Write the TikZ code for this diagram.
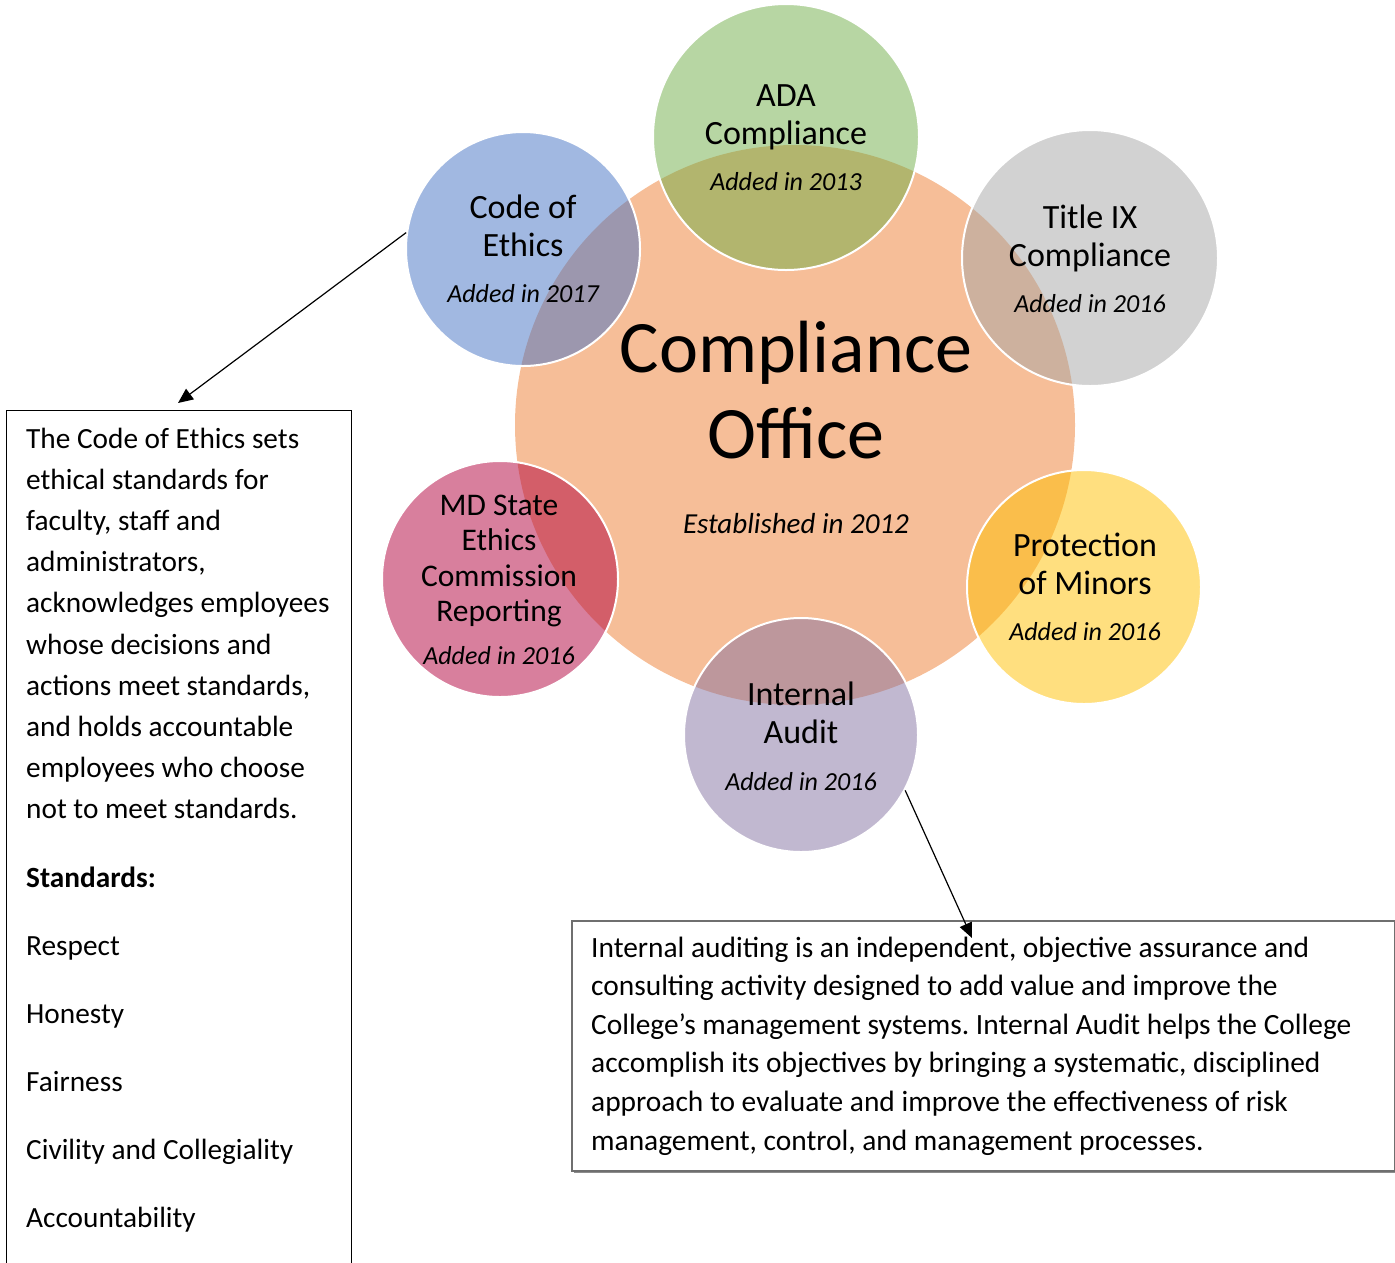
\documentclass[tikz,border=0pt]{standalone}
\usepackage{fontspec}
\setmainfont{Carlito}
\usetikzlibrary{arrows.meta,shadows}
\definecolor{cOrange}{HTML}{ED7D31}
\definecolor{cGreen}{HTML}{70AD47}
\definecolor{cBlue}{HTML}{4472C4}
\definecolor{cGray}{HTML}{A5A5A5}
\definecolor{cGold}{HTML}{FFC000}
\definecolor{cPurple}{HTML}{8472A2}
\definecolor{cRose}{HTML}{B2003C}
\definecolor{boxline}{HTML}{6F6F6F}
\frenchspacing
\tikzset{
  bubble/.style 2 args={circle, fill=#1, fill opacity=0.5, draw=white, draw opacity=1,
    line width=2pt, inner sep=0pt, minimum size=#2},
  bubbletext/.style={anchor=base, align=flush center, text width=#1, inner sep=0pt,
    font=\fontsize{34}{38}\selectfont},
  plaintext/.style={anchor=base west, align=flush left, inner sep=0pt},
  connector/.style={-{Triangle[length=15pt,width=13pt]}, line width=1.2pt, black},
}
\newcommand{\addedline}[1]{{\itshape\fontsize{26}{38}\selectfont #1}}
\begin{document}
\begin{tikzpicture}[x=1pt,y=-1pt]
\path[use as bounding box] (0,0) rectangle (1395,1262);
\clip (0,0) rectangle (1395,1262);

% hub
\node[circle, fill=cOrange, fill opacity=0.5, inner sep=0pt, minimum size=560] (hub) at (795,425) {};
% satellites
\node[bubble={cGreen}{266}]  (ada)   at (786,137) {};
\node[bubble={cBlue}{234}]   (coe)   at (523,249) {};
\node[bubble={cGray}{256}]   (tix)   at (1090,258) {};
\node[bubble={cGold}{234}]   (prot)  at (1084,587) {};
\node[bubble={cPurple}{234}] (audit) at (801,735) {};
\node[bubble={cRose}{236}]   (md)    at (500,579) {};

% texts
\node[bubbletext=500, font=\fontsize{74}{86}\selectfont] (hubtext) at (796,372)
  {Compliance\\Office\\[-11pt]{\itshape\fontsize{29}{38}\selectfont Established in 2012}};
\node[bubbletext=250] (adatext) at (786,106) {ADA\\Compliance\\[8pt]\addedline{Added in 2013}};
\node[bubbletext=230] (coetext) at (523,218) {Code of\\Ethics\\[8pt]\addedline{Added in 2017}};
\node[bubbletext=250] (tixtext) at (1090,228) {Title IX\\Compliance\\[8pt]\addedline{Added in 2016}};
\node[bubbletext=230] (prottext) at (1085,556) {Protection\\of Minors\\[8pt]\addedline{Added in 2016}};
\node[bubbletext=230] (audittext) at (801,705) {Internal\\Audit\\[9pt]\addedline{Added in 2016}};
\node[bubbletext=230, font=\fontsize{31.5}{35.5}\selectfont] (mdtext) at (499,515)
  {MD State\\Ethics\\Commission\\Reporting\\[7.5pt]\addedline{Added in 2016}};

% left box
\node[draw=black, line width=1.3pt, anchor=north west, minimum width=345, minimum height=900, inner sep=0pt]
  (ethicsbox) at (6,410) {};
\node[plaintext, text width=330, font=\fontsize{29.3}{41.2}\selectfont] (ethicstext) at (26,448)
  {The Code of Ethics sets\\ethical standards for\\faculty, staff and\\administrators,\\acknowledges employees\\whose decisions and\\actions meet standards,\\and holds accountable\\employees who choose\\not to meet standards.};
\node[plaintext, text width=330, font=\fontsize{29.3}{68}\selectfont] (standards) at (26,887)
  {\textbf{Standards:}\\Respect\\Honesty\\Fairness\\Civility and Collegiality\\Accountability};

% bottom box
\node[draw=boxline, line width=1.5pt, fill=white, anchor=north west, minimum width=823, minimum height=250,
  inner sep=0pt, drop shadow={shadow xshift=2pt, shadow yshift=-2pt, fill=black!45, opacity=1}]
  (auditbox) at (571,920) {};
\node[plaintext, text width=800, font=\fontsize{29.4}{38.6}\selectfont] (auditdesc) at (591,957)
  {Internal auditing is an independent, objective assurance and\\consulting activity designed to add value and improve the\\College’s management systems. Internal Audit helps the College\\accomplish its objectives by bringing a systematic, disciplined\\approach to evaluate and improve the effectiveness of risk\\management, control, and management processes.};

% connectors
\coordinate (ethicsarrow) at (178,403);
\coordinate (auditarrow) at (972,938);
\draw[connector] (coe.172) -- (ethicsarrow);
\draw[connector] (audit.-28) -- (auditarrow);
\end{tikzpicture}
\end{document}
